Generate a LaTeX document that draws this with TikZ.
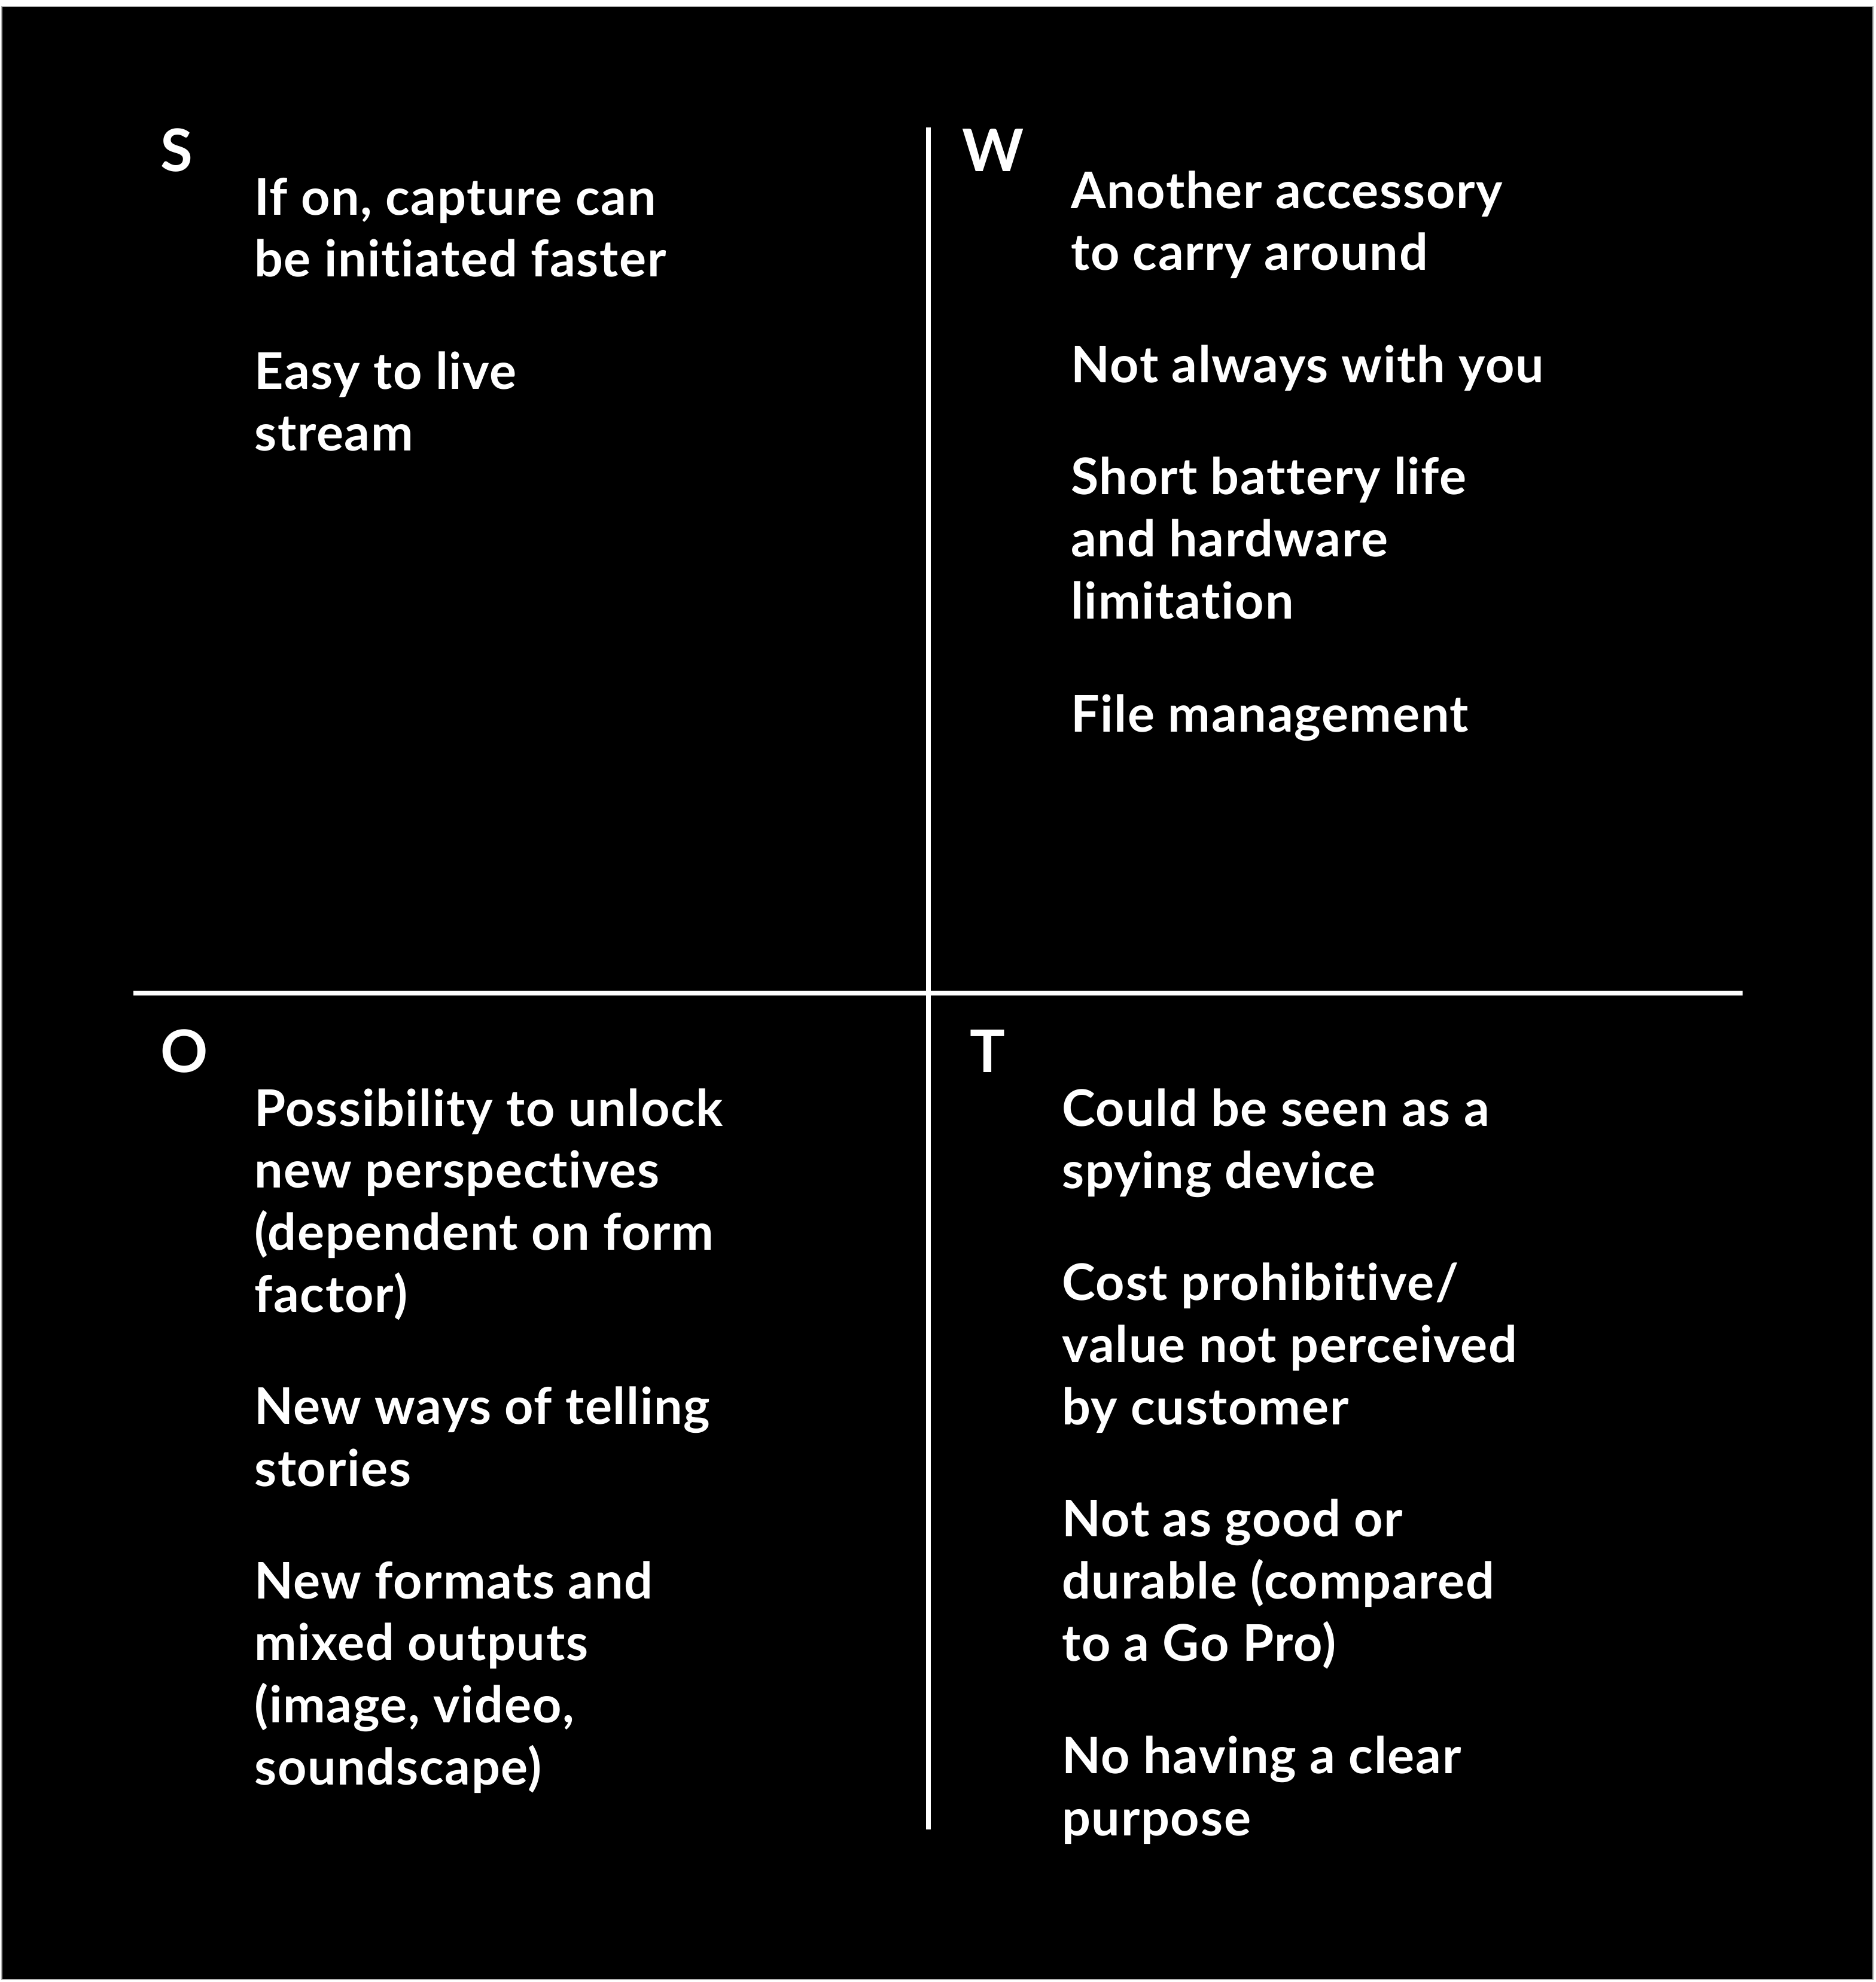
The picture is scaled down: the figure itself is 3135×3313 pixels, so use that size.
\documentclass[tikz,border=0pt]{standalone}
\usepackage{fontspec}
\setmainfont{Lato}[Ligatures=NoCommon,LetterSpace=2.0]

\begin{document}
\begin{tikzpicture}[x=0.01cm,y=-0.01cm,line width=0.085cm,
  letter/.style={anchor=base west,inner sep=0pt,text=white,font=\fontsize{27.9pt}{30pt}\selectfont\bfseries},
  item/.style={anchor=base west,inner sep=0pt,text=white,align=left,font=\fontsize{24pt}{29.45pt}\selectfont\bfseries}]
\useasboundingbox (0,0) rectangle (3135,3313);
\filldraw[fill=black,draw=gray!60,line width=0.5pt] (3,11) rectangle (3131,3309);

\coordinate (top) at (1552,213);
\coordinate (bottom) at (1552,3058);
\coordinate (left) at (223,1660);
\coordinate (right) at (2913,1660);

\draw[white] (top) -- (bottom);
\draw[white] (left) -- (right);

% S (items sit on the baseline of their last line)
\node[letter] (S) at (264,287) {S};
\node[item] (s1) at (421,463) {If on, capture can\\be initiated faster};
\node[item] (s2) at (421,754) {Easy to live\\stream};

% W
\node[letter] (W) at (1604,287) {W};
\node[item] (w1) at (1786,452) {Another accessory\\to carry around};
\node[item] (w2) at (1786,640) {Not always with you};
\node[item] (w3) at (1786,1034) {Short battery life\\and hardware\\limitation};
\node[item] (w4) at (1786,1223) {File management};

% O
\node[letter] (O) at (264,1792) {O};
\node[item] (o1) at (421,2193) {Possibility to unlock\\new perspectives\\(dependent on form\\factor)};
\node[item] (o2) at (421,2484) {New ways of telling\\stories};
\node[item] (o3) at (421,2983) {New formats and\\mixed outputs\\(image, video,\\soundscape)};

% T
\node[letter] (T) at (1617,1792) {T};
\node[item] (t1) at (1771,1986) {Could be seen as a\\spying device};
\node[item] (t2) at (1771,2381) {Cost prohibitive/\\value not perceived\\by customer};
\node[item] (t3) at (1771,2776) {Not as good or\\durable (compared\\to a Go Pro)};
\node[item] (t4) at (1771,3068) {No having a clear\\purpose};

\end{tikzpicture}
\end{document}
